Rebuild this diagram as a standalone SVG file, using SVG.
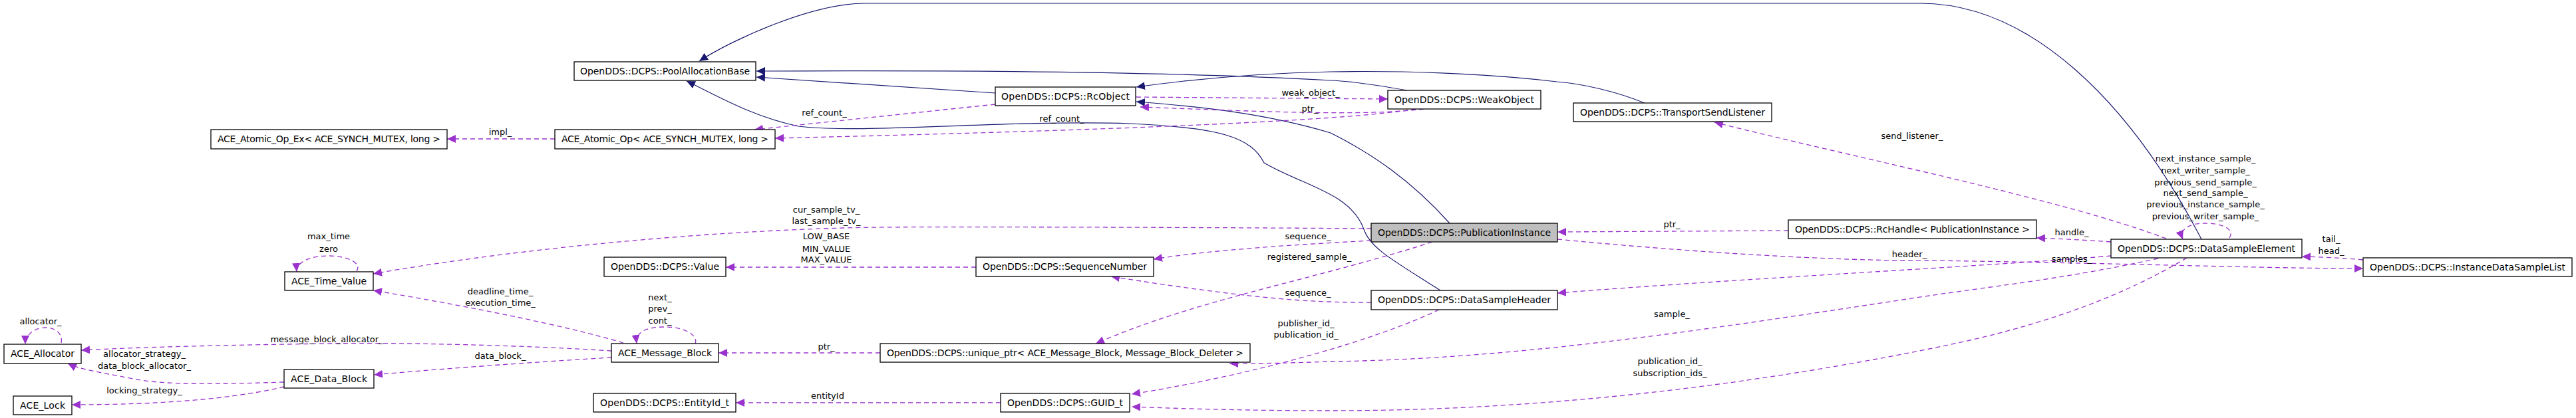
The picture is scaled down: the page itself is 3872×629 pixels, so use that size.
<svg xmlns="http://www.w3.org/2000/svg" width="3872" height="629" viewBox="0 0 3872 629">
<style>
.n rect{fill:#fff;stroke:#000;stroke-width:1.3}
.n text{font-family:"DejaVu Sans",sans-serif;font-size:14px;text-anchor:middle;fill:#000}
.i{fill:none;stroke:#191970;stroke-width:1.2;marker-end:url(#ai)}
.m{fill:none;stroke:#9a32cd;stroke-width:1.3;stroke-dasharray:7,5;marker-end:url(#am)}
.l{font-family:"DejaVu Sans",sans-serif;font-size:13px;text-anchor:middle;fill:#000}
</style>
<defs>
<marker id="ai" markerUnits="userSpaceOnUse" markerWidth="14" markerHeight="12" refX="13" refY="6" orient="auto"><path d="M0,0 L13,6 L0,12 z" fill="#191970"/></marker>
<marker id="am" markerUnits="userSpaceOnUse" markerWidth="14" markerHeight="12" refX="13" refY="6" orient="auto"><path d="M0,0 L13,6 L0,12 z" fill="#9a32cd"/></marker>
</defs>
<rect width="3872" height="629" fill="#fff"/>
<g id="edges">
<path class="i" d="M1496,140 L1137,116"/>
<path class="i" d="M2472,155 C2430,138 2380,126 2340,123 C2230,110 2100,106 2000,108 C1900,110 1800,118 1708,131"/>
<path class="i" d="M2115,136 C2070,128 2030,122 2000,121 C1800,110 1500,105 1137,107"/>
<path class="i" d="M3309,360 C3200,150 3050,5 2886,5 L1300,5 C1220,5 1100,60 1051,92"/>
<path class="i" d="M2179,336 C2120,270 2060,230 2000,200 C1900,170 1800,160 1708,153"/>
<path class="i" d="M2165,437 C2100,395 2060,375 2050,345 C2030,290 1960,280 1900,245 C1880,205 1830,192 1700,186 C1500,180 1300,202 1200,190 C1130,175 1080,145 1032,122"/>
<path class="m" d="M834,209 L672,209"/>
<text class="l" x="752" y="203">impl_</text>
<path class="m" d="M1496,157 L1134,195"/>
<text class="l" x="1239" y="174">ref_count_</text>
<path class="m" d="M2128,164 C2000,186 1500,200 1165,208"/>
<text class="l" x="1596" y="183">ref_count_</text>
<path class="m" d="M1708,146 L2086,149"/>
<text class="l" x="1970" y="144">weak_object_</text>
<path class="m" d="M2140,164 C2050,175 1900,168 1714,161"/>
<text class="l" x="1969" y="168">ptr_</text>
<path class="m" d="M2061,344 C1800,342 1400,341 1319,342 C1100,345 800,370 561,412"/>
<text class="l" x="1242" y="320">cur_sample_tv_</text>
<text class="l" x="1242" y="337">last_sample_tv_</text>
<path class="m" d="M2061,362 C1950,368 1820,376 1734,390"/>
<text class="l" x="1966" y="360">sequence_</text>
<path class="m" d="M2061,455 C1960,456 1860,446 1670,416"/>
<text class="l" x="1966" y="445">sequence_</text>
<path class="m" d="M2153,364 C1980,420 1800,450 1647,517"/>
<text class="l" x="1968" y="391">registered_sample_</text>
<path class="m" d="M1467,402 L1091,402"/>
<text class="l" x="1242" y="360">LOW_BASE</text>
<text class="l" x="1242" y="379">MIN_VALUE</text>
<text class="l" x="1242" y="395">MAX_VALUE</text>
<path class="m" d="M937,516 C850,490 700,460 561,437"/>
<text class="l" x="752" y="443">deadline_time_</text>
<text class="l" x="752" y="460">execution_time_</text>
<path class="m" d="M1045,517 C1050,505 1030,492 1000,492 C970,492 955,500 957,517"/>
<text class="l" x="992" y="452">next_</text>
<text class="l" x="992" y="469">prev_</text>
<text class="l" x="992" y="487">cont_</text>
<path class="m" d="M919,528 C800,520 600,515 500,517 C350,519 220,522 122,527"/>
<text class="l" x="491" y="515">message_block_allocator_</text>
<path class="m" d="M919,538 C800,545 650,556 562,564"/>
<text class="l" x="752" y="540">data_block_</text>
<path class="m" d="M427,575 C330,578 250,580 200,570 C150,560 120,556 102,547"/>
<text class="l" x="217" y="537">allocator_strategy_</text>
<text class="l" x="217" y="555">data_block_allocator_</text>
<path class="m" d="M427,582 C330,605 200,609 108,609"/>
<text class="l" x="217" y="592">locking_strategy_</text>
<path class="m" d="M92,516 C95,500 80,493 70,493 C50,493 38,505 38,518"/>
<text class="l" x="61" y="488">allocator_</text>
<path class="m" d="M536,408 C545,395 520,385 494,385 C465,385 445,395 446,409"/>
<text class="l" x="494" y="360">max_time</text>
<text class="l" x="494" y="379">zero</text>
<path class="m" d="M1323,531 L1080,531"/>
<text class="l" x="1242" y="526">ptr_</text>
<path class="m" d="M1504,606 L1106,606"/>
<text class="l" x="1244" y="600">entityId</text>
<path class="m" d="M2163,466 C2050,520 1850,570 1701,593"/>
<text class="l" x="1963" y="491">publisher_id_</text>
<text class="l" x="1963" y="508">publication_id_</text>
<path class="m" d="M3287,388 C3150,470 3000,505 2900,525 C2600,585 2300,618 2000,618 C1900,618 1800,616 1701,612"/>
<text class="l" x="2510" y="548">publication_id_</text>
<text class="l" x="2510" y="566">subscription_ids_</text>
<path class="m" d="M3244,389 C3100,420 3000,430 2900,445 C2600,490 2300,540 2000,544 C1950,546 1900,547 1848,547"/>
<text class="l" x="2513" y="477">sample_</text>
<path class="m" d="M3173,385 C3000,400 2600,420 2341,441"/>
<text class="l" x="2870" y="387">header_</text>
<path class="m" d="M2341,360 C2600,385 2800,393 2900,392 C3200,396 3400,404 3552,404"/>
<text class="l" x="3114" y="394">samples_</text>
<path class="m" d="M3173,364 C3130,361 3090,359 3061,358"/>
<text class="l" x="3114" y="354">handle_</text>
<path class="m" d="M2688,347 L2341,349"/>
<text class="l" x="2513" y="342">ptr_</text>
<path class="m" d="M3256,359 C3100,300 2800,240 2577,184"/>
<text class="l" x="2874" y="209">send_listener_</text>
<path class="m" d="M3351,358 C3360,345 3340,336 3315,336 C3290,336 3275,345 3281,360"/>
<text class="l" x="3315" y="243">next_instance_sample_</text>
<text class="l" x="3315" y="261">next_writer_sample_</text>
<text class="l" x="3315" y="279">previous_send_sample_</text>
<text class="l" x="3315" y="295">next_send_sample_</text>
<text class="l" x="3315" y="312">previous_instance_sample_</text>
<text class="l" x="3315" y="330">previous_writer_sample_</text>
<path class="m" d="M3552,391 C3520,388 3490,387 3460,386"/>
<text class="l" x="3504" y="364">tail_</text>
<text class="l" x="3504" y="382">head_</text>
</g>
<g id="PoolAllocationBase" class="n"><rect x="863" y="93" width="273" height="28"/><text x="999.5" y="112" textLength="255">OpenDDS::DCPS::PoolAllocationBase</text></g>
<g id="ACE_Atomic_Op_Ex" class="n"><rect x="317" y="195" width="355" height="29"/><text x="494.5" y="214" textLength="335">ACE_Atomic_Op_Ex&lt; ACE_SYNCH_MUTEX, long &gt;</text></g>
<g id="ACE_Atomic_Op" class="n"><rect x="834" y="195" width="331" height="29"/><text x="999.5" y="214" textLength="311">ACE_Atomic_Op&lt; ACE_SYNCH_MUTEX, long &gt;</text></g>
<g id="RcObject" class="n"><rect x="1496" y="131" width="211" height="28"/><text x="1601.5" y="150" textLength="193">OpenDDS::DCPS::RcObject</text></g>
<g id="WeakObject" class="n"><rect x="2086" y="136" width="230" height="28"/><text x="2201" y="155" textLength="210">OpenDDS::DCPS::WeakObject</text></g>
<g id="TransportSendListener" class="n"><rect x="2365" y="155" width="298" height="28"/><text x="2514" y="174" textLength="278">OpenDDS::DCPS::TransportSendListener</text></g>
<g id="ACE_Time_Value" class="n"><rect x="428" y="409" width="133" height="28"/><text x="494.5" y="428" textLength="113">ACE_Time_Value</text></g>
<g id="Value" class="n"><rect x="908" y="387" width="183" height="29"/><text x="999.5" y="406" textLength="163">OpenDDS::DCPS::Value</text></g>
<g id="SequenceNumber" class="n"><rect x="1467" y="387" width="267" height="29"/><text x="1600.5" y="406" textLength="247">OpenDDS::DCPS::SequenceNumber</text></g>
<g id="PublicationInstance" class="n"><rect x="2061" y="336" width="280" height="28" style="fill:#bfbfbf"/><text x="2201" y="355" textLength="260">OpenDDS::DCPS::PublicationInstance</text></g>
<g id="DataSampleHeader" class="n"><rect x="2061" y="437" width="280" height="29"/><text x="2201" y="456" textLength="260">OpenDDS::DCPS::DataSampleHeader</text></g>
<g id="RcHandle" class="n"><rect x="2688" y="331" width="373" height="28"/><text x="2874.5" y="350" textLength="353">OpenDDS::DCPS::RcHandle&lt; PublicationInstance &gt;</text></g>
<g id="DataSampleElement" class="n"><rect x="3173" y="360" width="287" height="28"/><text x="3316.5" y="379" textLength="267">OpenDDS::DCPS::DataSampleElement</text></g>
<g id="InstanceDataSampleList" class="n"><rect x="3552" y="388" width="314" height="28"/><text x="3709" y="407" textLength="294">OpenDDS::DCPS::InstanceDataSampleList</text></g>
<g id="ACE_Allocator" class="n"><rect x="6" y="518" width="116" height="29"/><text x="64" y="537" textLength="96">ACE_Allocator</text></g>
<g id="ACE_Message_Block" class="n"><rect x="919" y="517" width="161" height="28"/><text x="999.5" y="536" textLength="141">ACE_Message_Block</text></g>
<g id="unique_ptr" class="n"><rect x="1323" y="517" width="556" height="28"/><text x="1601" y="536" textLength="536">OpenDDS::DCPS::unique_ptr&lt; ACE_Message_Block, Message_Block_Deleter &gt;</text></g>
<g id="ACE_Data_Block" class="n"><rect x="427" y="556" width="135" height="28"/><text x="494.5" y="575" textLength="115">ACE_Data_Block</text></g>
<g id="ACE_Lock" class="n"><rect x="20" y="596" width="88" height="28"/><text x="64" y="615" textLength="68">ACE_Lock</text></g>
<g id="EntityId_t" class="n"><rect x="892" y="592" width="214" height="28"/><text x="999" y="611" textLength="194">OpenDDS::DCPS::EntityId_t</text></g>
<g id="GUID_t" class="n"><rect x="1504" y="592" width="194" height="28"/><text x="1601" y="611" textLength="174">OpenDDS::DCPS::GUID_t</text></g>
</svg>
